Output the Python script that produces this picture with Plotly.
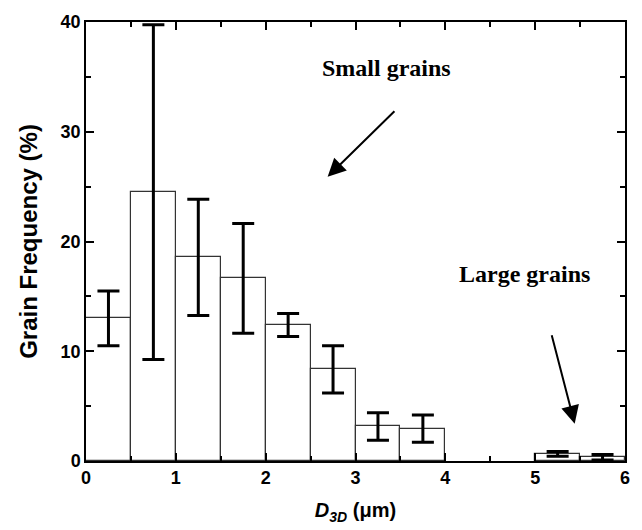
import plotly.graph_objects as go

# Histogram bins (left edges, µm), bin width 0.5
bin_left = [0.0, 0.5, 1.0, 1.5, 2.0, 2.5, 3.0, 3.5, 5.0, 5.5]
bin_width = 0.5
freq = [13.0, 24.5, 18.55, 16.65, 12.4, 8.35, 3.15, 2.95, 0.65, 0.35]
err = [2.5, 15.25, 5.3, 5.0, 1.05, 2.15, 1.25, 1.25, 0.22, 0.25]

centers = [b + bin_width / 2 for b in bin_left]

fig = go.Figure()
fig.add_trace(go.Bar(
    x=centers, y=freq, width=[bin_width] * len(centers),
    marker=dict(color="white", line=dict(color="#333333", width=1.2)),
    error_y=dict(type="data", array=err, visible=True, color="black",
                 thickness=3, width=11),
    showlegend=False,
))

axis_common = dict(
    showline=True, linecolor="black", linewidth=1.5, mirror="ticks",
    ticks="inside", ticklen=8, tickwidth=1.5, tickcolor="black",
    showgrid=False, zeroline=False,
    tickfont=dict(family="Liberation Sans", size=18, color="black", weight="bold"),
)

fig.update_xaxes(range=[0, 6], dtick=1, tick0=0,
                 minor=dict(dtick=0.5, ticklen=5, tickwidth=1.5, tickcolor="black", ticks="inside"),
                 title=dict(text="<i>D</i><sub><i>3D</i></sub> (μm)",
                            font=dict(family="Liberation Sans", size=20, color="black", weight="bold"),
                            standoff=16),
                 **axis_common)
fig.update_yaxes(range=[0, 40], dtick=10, tick0=0,
                 minor=dict(dtick=5, ticklen=5, tickwidth=1.5, tickcolor="black", ticks="inside"),
                 title=dict(text="Grain Frequency (%)",
                            font=dict(family="Liberation Sans", size=24, color="black", weight="bold"),
                            standoff=16),
                 **axis_common)

ann_font = dict(family="Liberation Serif", size=24, color="black", weight="bold")
fig.add_annotation(x=3.34, y=35.8, xref="x", yref="y", text="Small grains",
                   showarrow=False, font=ann_font)
fig.add_annotation(x=4.88, y=17.0, xref="x", yref="y", text="Large grains",
                   showarrow=False, font=ann_font)
fig.add_annotation(x=2.69, y=25.9, ax=3.45, ay=32.0, xref="x", yref="y",
                   axref="x", ayref="y", text="", showarrow=True,
                   arrowhead=2, arrowsize=1.8, arrowwidth=2, arrowcolor="black")
fig.add_annotation(x=5.44, y=3.4, ax=5.18, ay=11.6, xref="x", yref="y",
                   axref="x", ayref="y", text="", showarrow=True,
                   arrowhead=2, arrowsize=1.8, arrowwidth=2, arrowcolor="black")

fig.update_layout(
    width=642, height=530,
    margin=dict(l=86, r=15, t=18, b=69),
    paper_bgcolor="white", plot_bgcolor="white",
    bargap=0,
)

fig.write_html("out.html")
